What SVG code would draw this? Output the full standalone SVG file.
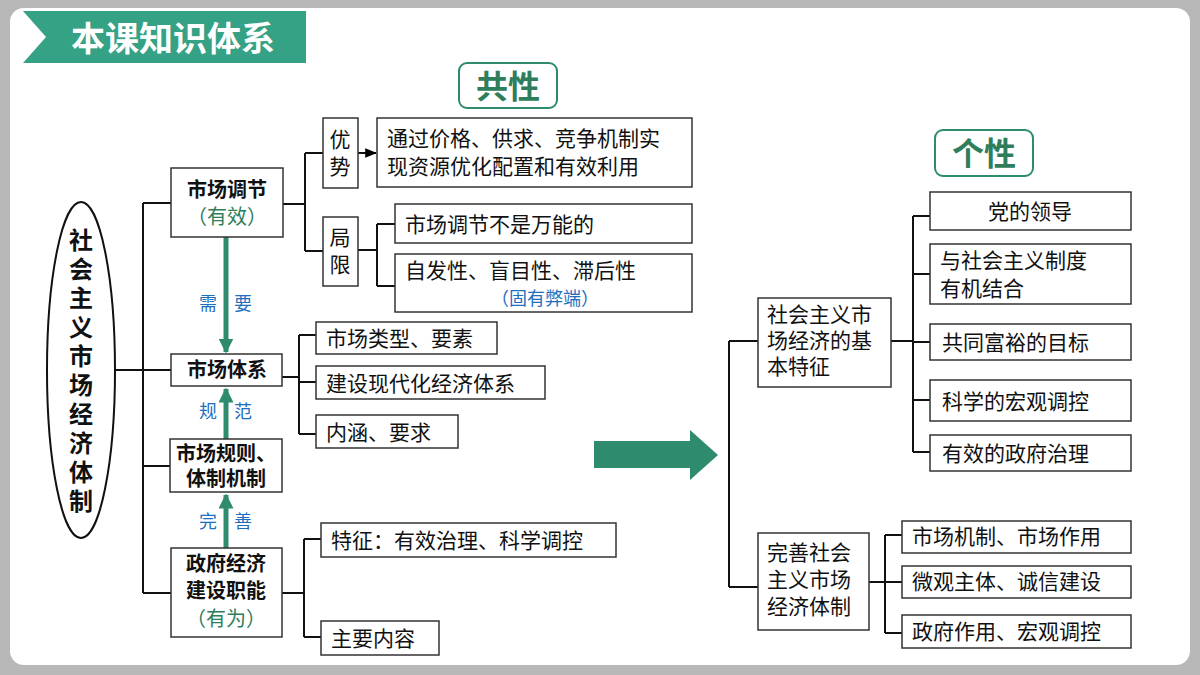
<svg xmlns="http://www.w3.org/2000/svg" width="1200" height="675" viewBox="0 0 1200 675">
<defs>
<marker id="ah" viewBox="0 0 10 10" refX="9" refY="5" markerWidth="6" markerHeight="6" orient="auto"><path d="M0,1 L10,5 L0,9 z" fill="#000"/></marker>
<marker id="gh" viewBox="0 0 10 10" refX="9" refY="5" markerWidth="3" markerHeight="3" orient="auto"><path d="M0,0 L10,5 L0,10 z" fill="#2e8b6e"/></marker>
</defs>
<style>
.b{fill:#fff;stroke:#333;stroke-width:1.5}
.t{font-family:"Noto Sans CJK SC",sans-serif;font-size:21px;fill:#111}
.h{font-family:"Noto Sans CJK SC",sans-serif;font-size:20px;font-weight:bold;fill:#111}
.g{font-family:"Noto Sans CJK SC",sans-serif;font-size:20px;fill:#2e7d5b}
.bl{font-family:"Noto Sans CJK SC",sans-serif;font-size:18px;fill:#1f6fc0}
.c{fill:none;stroke:#111;stroke-width:2}
.gl{stroke:#2e8b6e;stroke-width:5;fill:none}
</style>
<rect width="1200" height="675" fill="#b8b8b8"/>
<rect x="10" y="8" width="1180" height="657" rx="14" fill="#fff"/>
<g id="header">
<polygon points="23,11 306,11 306,63 23,63 46,37" fill="#35a185"/>
<text x="71" y="51" font-family="Noto Sans CJK SC,sans-serif" font-size="34" font-weight="bold" fill="#fff">本课知识体系</text>
</g>
<g id="gongxing"><rect x="459" y="63" width="98" height="45" rx="8" fill="#fff" stroke="#2e8b6e" stroke-width="2"/><text x="508" y="98" text-anchor="middle" font-family="Noto Sans CJK SC,sans-serif" font-size="32" font-weight="bold" fill="#2e7d5b">共性</text></g>
<g id="gexing"><rect x="935" y="130" width="98" height="46" rx="8" fill="#fff" stroke="#2e8b6e" stroke-width="2"/><text x="984" y="165" text-anchor="middle" font-family="Noto Sans CJK SC,sans-serif" font-size="32" font-weight="bold" fill="#2e7d5b">个性</text></g>
<g id="connectors">
<path class="c" d="M115,370 H143 M143,203 V593 M143,203 H172 M143,466 H172 M143,593 H172 M143,370 H172"/>
<path class="c" d="M283,204 H305 M305,153 V251 M305,153 H323 M305,251 H323"/>
<path class="c" d="M358,153 H376" marker-end="url(#ah)"/>
<path class="c" d="M358,250 H377 M377,224 V286 M377,224 H395 M377,286 H395"/>
<path class="c" d="M282,377 H299 M299,335 V434 M299,335 H316 M299,382 H316 M299,434 H316"/>
<path class="c" d="M282,593 H304 M304,539 V637 M304,539 H321 M304,637 H321"/>
<path class="c" d="M729,341 V587 M729,341 H758 M729,587 H758"/>
<path class="c" d="M891,341 H913 M913,216 V452 M913,216 H930 M913,274 H930 M913,342 H930 M913,400 H930 M913,452 H930"/>
<path class="c" d="M869,582 H885 M885,535 V633 M885,535 H902 M885,582 H902 M885,633 H902"/>
<line class="gl" x1="226" y1="237" x2="226" y2="352" marker-end="url(#gh)"/>
<line class="gl" x1="226" y1="439" x2="226" y2="389" marker-end="url(#gh)"/>
<line class="gl" x1="226" y1="548" x2="226" y2="495" marker-end="url(#gh)"/>
<text class="bl" x="208" y="310" text-anchor="middle">需</text><text class="bl" x="243" y="310" text-anchor="middle">要</text>
<text class="bl" x="208" y="418" text-anchor="middle">规</text><text class="bl" x="243" y="418" text-anchor="middle">范</text>
<text class="bl" x="208" y="528" text-anchor="middle">完</text><text class="bl" x="243" y="528" text-anchor="middle">善</text>
<polygon points="594,441 690,441 690,430 718,455 690,480 690,468 594,468" fill="#2e8b6e"/>
</g>
<g id="root"><ellipse cx="81" cy="370" rx="34" ry="168" fill="#fff" stroke="#111" stroke-width="2"/>
<text x="81" y="228" writing-mode="tb" glyph-orientation-vertical="0" letter-spacing="5" font-family="Noto Sans CJK SC,sans-serif" font-size="24" font-weight="bold" fill="#111">社会主义市场经济体制</text></g>
<g id="n1"><rect class="b" x="171" y="168" width="112" height="69"/><text class="h" x="227" y="197" text-anchor="middle">市场调节</text><text class="g" x="227" y="224" text-anchor="middle">（有效）</text></g>
<g id="n2"><rect class="b" x="171" y="354" width="111" height="32"/><text class="h" x="227" y="377" text-anchor="middle">市场体系</text></g>
<g id="n3"><rect class="b" x="170" y="439" width="112" height="53"/><text class="h" x="226" y="461" text-anchor="middle">市场规则、</text><text class="h" x="226" y="486" text-anchor="middle">体制机制</text></g>
<g id="n4"><rect class="b" x="171" y="548" width="111" height="89"/><text class="h" x="226" y="571" text-anchor="middle">政府经济</text><text class="h" x="226" y="598" text-anchor="middle">建设职能</text><text class="g" x="226" y="626" text-anchor="middle">（有为）</text></g>
<g id="you"><rect class="b" x="323" y="118" width="35" height="70"/><text class="t" x="340" y="147" text-anchor="middle">优</text><text class="t" x="340" y="174" text-anchor="middle">势</text></g>
<g id="ju"><rect class="b" x="323" y="217" width="35" height="69"/><text class="t" x="340" y="245" text-anchor="middle">局</text><text class="t" x="340" y="272" text-anchor="middle">限</text></g>
<g id="adv"><rect class="b" x="377" y="118" width="315" height="69"/><text class="t" x="387" y="146">通过价格、供求、竞争机制实</text><text class="t" x="387" y="174">现资源优化配置和有效利用</text></g>
<g id="lim1"><rect class="b" x="395" y="204" width="297" height="39"/><text class="t" x="405" y="232" font-size="22">市场调节不是万能的</text></g>
<g id="lim2"><rect class="b" x="395" y="254" width="297" height="58"/><text class="t" x="405" y="278" font-size="22">自发性、盲目性、滞后性</text><text class="bl" x="545" y="305" text-anchor="middle" font-size="21">（固有弊端）</text></g>
<g id="s1"><rect class="b" x="316" y="322" width="181" height="32"/><text class="t" x="326" y="346">市场类型、要素</text></g>
<g id="s2"><rect class="b" x="316" y="366" width="229" height="33"/><text class="t" x="326" y="391">建设现代化经济体系</text></g>
<g id="s3"><rect class="b" x="316" y="415" width="142" height="33"/><text class="t" x="326" y="440">内涵、要求</text></g>
<g id="g1"><rect class="b" x="321" y="523" width="295" height="34"/><text class="t" x="331" y="548">特征：有效治理、科学调控</text></g>
<g id="g2"><rect class="b" x="321" y="621" width="118" height="34"/><text class="t" x="331" y="646">主要内容</text></g>
<g id="r1"><rect class="b" x="758" y="298" width="133" height="89"/><text class="t" x="767" y="322" font-size="19">社会主义市</text><text class="t" x="767" y="348" font-size="19">场经济的基</text><text class="t" x="767" y="374" font-size="19">本特征</text></g>
<g id="r2"><rect class="b" x="758" y="533" width="111" height="97"/><text class="t" x="767" y="560" font-size="19">完善社会</text><text class="t" x="767" y="587" font-size="19">主义市场</text><text class="t" x="767" y="614" font-size="19">经济体制</text></g>
<g id="f1"><rect class="b" x="930" y="192" width="201" height="38"/><text class="t" x="1030" y="219" text-anchor="middle" font-size="22">党的领导</text></g>
<g id="f2"><rect class="b" x="930" y="244" width="201" height="60"/><text class="t" x="940" y="268" font-size="22">与社会主义制度</text><text class="t" x="940" y="296" font-size="22">有机结合</text></g>
<g id="f3"><rect class="b" x="930" y="324" width="201" height="36"/><text class="t" x="942" y="350" font-size="22">共同富裕的目标</text></g>
<g id="f4"><rect class="b" x="930" y="380" width="201" height="41"/><text class="t" x="942" y="409" font-size="22">科学的宏观调控</text></g>
<g id="f5"><rect class="b" x="930" y="435" width="201" height="36"/><text class="t" x="942" y="461" font-size="22">有效的政府治理</text></g>
<g id="p1"><rect class="b" x="902" y="521" width="229" height="32"/><text class="t" x="912" y="544" font-size="19">市场机制、市场作用</text></g>
<g id="p2"><rect class="b" x="902" y="566" width="229" height="32"/><text class="t" x="912" y="589" font-size="19">微观主体、诚信建设</text></g>
<g id="p3"><rect class="b" x="902" y="615" width="229" height="33"/><text class="t" x="912" y="639" font-size="19">政府作用、宏观调控</text></g>
</svg>
